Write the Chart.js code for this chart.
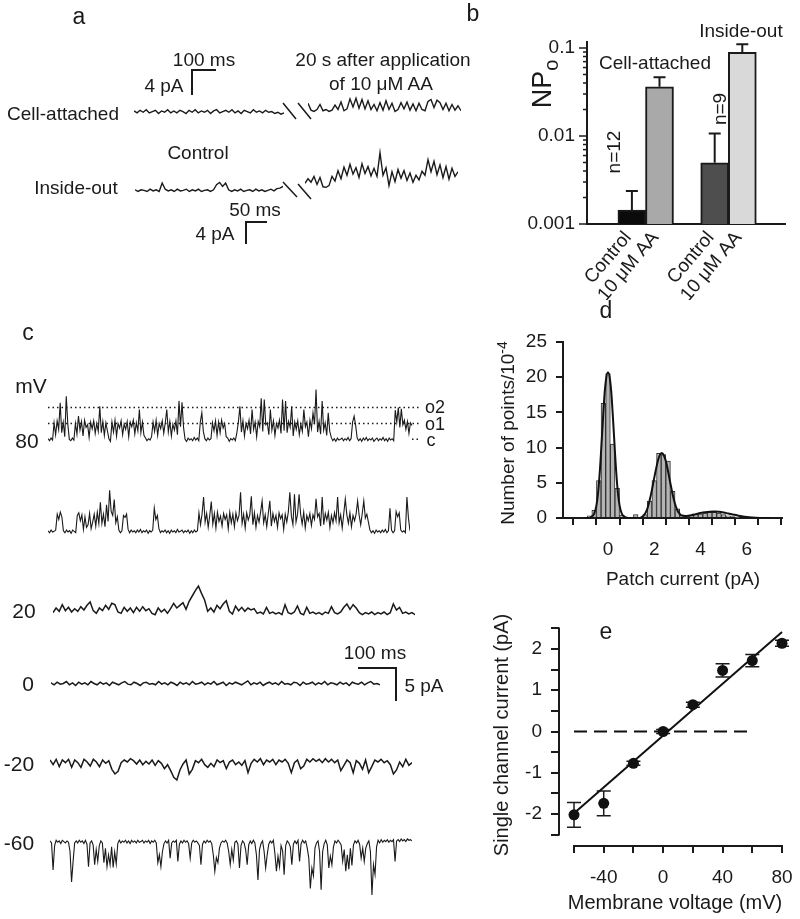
<!DOCTYPE html>
<html>
<head>
<meta charset="utf-8">
<script src="https://cdn.jsdelivr.net/npm/chart.js@4.4.1/dist/chart.umd.min.js"></script>
<style>
  body { margin: 0; width: 800px; height: 919px; position: relative; background: #fff; overflow: hidden;
         font-family: Arial, "Liberation Sans", sans-serif; color: #1a1a1a; }
  canvas { position: absolute; }
</style>
</head>
<body>
<script>
// ---- panel a: single-channel traces (pA) ----
const aCellCtrl = [0.1,-0.2,0.2,-0.1,0.3,-0.2,0.0,0.2,-0.3,0.1,-0.1,0.3,-0.2,0.1,-0.2,0.2,0.0,-0.3,0.2,-0.1,0.3,-0.2,0.1,-0.1,0.2,-0.3,0.1,0.3,-0.2,0.0,0.2,-0.1,0.3,-0.2,0.1,-0.3,0.2,0.0,-0.2,0.3,-0.1,0.1,-0.2,0.2,-0.1,0.0,-0.3,-0.1,-0.4,-0.2]
const aCellAA = [1.2,0.1,-0.1,0.2,1.0,0.0,0.2,-0.1,0.1,0.9,0.2,1.4,0.0,0.3,1.9,0.6,2.0,0.4,1.8,0.3,1.6,0.2,1.0,0.0,1.3,0.1,1.6,0.2,1.2,-0.1,0.2,1.3,0.3,1.4,0.1,1.1,0.0,1.2,0.2,0.0,1.5,1.8,0.5,1.7,1.3,0.2,1.2,0.0,1.0,0.1,0.8,0.0]
const aInsideCtrl = [0.1,-0.2,0.1,0.0,-0.2,0.2,-0.1,0.1,-0.2,1.3,0.2,-0.1,0.1,-0.2,0.2,-0.1,0.0,0.2,-0.2,0.1,-0.1,0.2,-0.2,0.0,0.1,-0.2,0.1,1.0,1.4,0.7,1.3,0.1,-0.2,0.1,-0.1,0.2,-0.2,0.0,0.1,-0.2,0.2,-0.1,0.1,-0.2,0.0,0.2,-0.1,0.3,0.4,0.7]
const aInsideAA = [1.2,2.0,1.4,2.4,1.0,2.2,0.6,0.5,0.8,2.4,1.6,3.4,2.0,4.0,2.6,4.5,2.8,3.9,2.2,4.6,2.9,4.1,2.5,3.8,2.4,6.5,2.6,3.9,0.8,3.2,1.5,3.6,2.1,3.4,1.7,3.0,1.4,2.6,1.8,3.3,2.6,5.3,3.2,5.0,2.7,4.4,2.2,4.1,1.9,3.8,2.4,3.2]

// ---- panel b: NPo ----
const bLabels = ['Control', '10 μM AA', 'Control', '10 μM AA']
const bSlot = [0, 1, 3, 4]
const bNPo = [0.00144, 0.0363, 0.00497, 0.0893]
const bErrTop = [0.00237, 0.0464, 0.0107, 0.110]
const bColors = ['#0b0b0b', '#a9a9a9', '#4e4e4e', '#d9d9d9']
const bTicks = [0.001,0.002,0.003,0.004,0.005,0.006,0.007,0.008,0.009,0.01,0.02,0.03,0.04,0.05,0.06,0.07,0.08,0.09,0.1]
const bMajor = [0.001, 0.01, 0.1]

// ---- panel c: traces at different holding potentials (pA) ----
const c80 = [0.1,-0.2,0.2,-0.1,
  2.5,0.7,2.8,1.5,5.5,1.0,2.6,0.4,6.5,2.3,
  0.0,-0.2,0.2,-0.1,
  2.4,0.8,3.5,1.4,2.7,0.5,2.9,1.8,2.2,0.3,2.6,1.6,2.8,0.9,2.4,1.2,5.0,1.0,2.7,0.6,2.5,1.3,
  0.1,-0.3,
  2.6,1.1,2.9,0.5,2.4,1.7,2.8,0.7,2.3,1.5,2.7,0.4,2.6,1.9,2.9,0.8,2.5,1.3,4.5,1.0,2.6,0.6,
  0.2,-0.2,0.1,-0.1,
  0.4,2.6,1.2,2.9,0.6,2.4,1.6,2.8,0.9,2.5,4.5,1.1,2.7,0.5,2.3,1.4,2.8,0.7,5.8,1.9,5.6,1.8,
  0.0,-0.3,0.2,-0.1,0.1,-0.2,0.3,-0.1,0.2,-0.2,
  2.6,4.0,1.2,0.1,
  -0.2,0.2,-0.1,0.1,
  2.5,1.3,2.8,0.6,2.6,1.0,2.9,1.7,2.4,0.4,
  0.2,-0.3,0.1,-0.1,0.2,-0.2,
  1.0,2.6,5.0,1.1,2.8,0.5,2.4,1.6,2.9,0.8,4.5,1.5,2.6,0.4,2.7,1.9,6.2,1.2,6.0,2.2,2.5,0.7,4.5,1.4,2.8,0.6,2.4,1.7,2.9,0.9,
  6.0,1.3,5.8,1.0,2.7,1.8,5.0,0.5,2.6,1.5,2.8,0.7,2.3,1.2,4.5,1.9,2.6,0.4,2.9,1.6,4.0,2.3,7.5,1.1,2.7,0.8,5.8,1.4,2.5,0.6,4.0,1.2,
  0.3,-0.2,0.1,-0.3,0.2,-0.1,0.0,0.2,-0.2,0.1,-0.1,0.3,-0.2,0.1,
  2.6,3.5,2.1,
  0.2,-0.2,0.1,-0.3,0.2,-0.1,0.3,-0.2,0.1,-0.1,0.2,-0.3,0.0,0.2,-0.2,0.1,-0.1,0.3,-0.2,0.1,-0.3,0.2,-0.1,0.1,-0.2,
  4.4,2.6,4.8,1.8,4.6,2.2,2.9,1.5,2.7,0.9,2.5,2.1]
const c60 = [0.1,-0.2,0.2,-0.1,0.0,0.2,
  2.6,1.8,2.9,2.2,
  0.1,-0.2,0.2,-0.1,0.1,-0.3,0.2,0.0,-0.2,
  2.4,2.8,1.6,2.5,
  0.3,2.2,0.6,1.0,2.7,0.4,1.4,2.6,0.8,2.9,1.2,4.4,1.2,
  2.6,0.7,4.0,1.5,6.2,3.0,2.4,4.8,1.3,2.2,
  0.2,-0.2,0.1,
  2.4,2.1,2.6,0.3,
  -0.2,0.2,-0.1,0.1,-0.2,0.2,-0.1,0.3,-0.2,0.1,-0.1,0.2,-0.3,0.1,-0.1,0.2,
  3.5,1.8,2.4,0.4,
  -0.2,0.1,-0.1,0.2,-0.2,0.1,-0.3,0.2,-0.1,0.1,-0.2,0.3,-0.1,0.0,0.2,-0.2,0.1,-0.1,0.2,-0.3,0.1,-0.2,0.2,-0.1,0.1,
  2.8,1.0,2.6,5.2,1.4,2.7,0.6,2.4,4.5,1.1,2.7,0.5,2.9,1.5,2.3,0.8,2.7,1.8,2.5,0.4,2.9,1.3,2.6,0.7,2.8,1.6,2.4,5.9,1.2,2.6,
  0.5,2.8,1.7,2.5,5.3,1.0,2.8,0.6,2.4,1.4,2.9,4.6,1.3,2.5,0.7,2.7,4.6,0.8,2.7,1.5,2.4,0.6,2.8,1.9,2.5,0.3,2.6,1.4,2.9,5.9,
  2.3,1.0,5.6,1.4,2.6,5.6,2.6,1.1,2.9,0.5,2.4,1.6,2.7,0.9,2.5,1.8,4.9,2.2,2.7,0.8,5.2,1.0,2.7,1.7,2.9,0.6,2.4,1.3,2.8,1.6,
  5.2,1.3,2.5,0.5,2.7,4.9,2.5,1.2,2.8,0.7,2.4,1.6,2.6,4.6,2.4,1.0,2.7,4.6,2.0,2.6,1.4,
  0.2,-0.2,0.1,-0.3,0.2,-0.1,0.1,-0.2,0.2,-0.1,0.3,-0.2,0.1,
  3.5,
  0.2,-0.2,0.1,
  3.0,2.2,2.8,
  0.2,-0.1,0.1,-0.2,
  5.2,
  2.0,0.1]
const c20 = [0.1,0.8,0.3,1.3,0.4,0.9,0.2,0.7,0.3,1.0,0.5,1.2,1.7,0.4,0.0,0.8,0.4,1.2,0.6,1.5,1.3,0.2,0.0,0.9,0.3,0.8,0.1,0.9,0.3,1.0,0.4,0.7,0.0,-0.2,0.8,0.2,0.6,0.0,0.7,1.5,0.8,1.2,1.6,0.6,1.8,2.6,3.4,4.1,3.0,2.0,0.3,0.8,0.2,1.2,0.7,1.4,1.9,0.3,-0.1,1.1,0.4,0.9,0.3,0.8,0.5,0.7,0.0,0.2,-0.1,0.9,0.0,0.2,-0.1,0.1,-0.2,1.3,0.1,-0.1,0.2,1.1,0.0,-0.2,0.9,0.0,0.2,-0.1,0.1,-0.2,0.2,0.0,1.0,0.1,-0.1,0.2,0.9,1.4,0.6,1.3,0.8,0.1,-0.2,0.1,-0.1,0.2,-0.2,0.1,-0.1,0.2,-0.2,0.1,1.4,0.5,0.9,0.0,0.2,-0.1,0.1,-0.2]
const c0 = [0.1,-0.2,0.2,-0.1,0.0,0.3,-0.2,0.1,-0.3,0.2,-0.1,0.1,-0.2,0.3,0.0,-0.2,0.2,-0.1,0.1,-0.3,0.2,0.0,-0.2,0.1,0.3,-0.1,-0.2,0.2,0.0,-0.3,0.1,0.2,-0.1,0.0,-0.2,0.3,-0.1,0.1,-0.2,0.2,0.0,-0.3,0.2,-0.1,0.1,-0.2,0.3,-0.1,0.0,0.2,-0.2,0.1,-0.1,0.3,-0.2,0.0,0.2,-0.3,0.1,-0.1,0.2,0.0,-0.2,0.1,0.4,-0.2,0.1,-0.1,0.2,-0.3,0.0,0.2,-0.1,0.1,-0.2,0.3,-0.1,0.0,-0.2,0.2,0.1,-0.3,0.2,-0.1,0.0,0.2,-0.2,0.1,-0.1,0.3,-0.2,0.1,0.0,-0.2,0.2,-0.1,0.1,-0.3,0.2,0.0,-0.1,0.2,-0.2,0.1,0.3,-0.1,0.0,-0.2]
const cm20 = [0.1,-0.6,0.2,-0.9,0.1,-0.3,0.2,-1.0,0.1,-0.3,-1.0,0.2,-0.2,-0.8,0.2,-0.2,-0.9,0.1,-0.4,0.0,-1.3,-2.0,-1.6,-0.3,0.1,-0.2,0.3,0.0,-0.5,0.1,-0.6,-0.1,-0.5,0.1,-0.7,0.0,-0.4,-1.2,-0.6,-1.5,-2.5,-2.9,-1.4,-0.5,0.1,-2.0,-1.3,0.0,-0.3,0.2,-0.6,-1.0,-0.4,-0.9,0.1,-0.3,0.0,-1.2,-0.2,0.1,-0.6,-0.2,-0.7,0.0,-1.8,-0.4,0.2,-0.2,0.3,-0.6,0.1,-0.2,0.2,-0.6,0.1,-0.2,0.2,-0.4,-1.8,-0.3,0.1,-1.2,-0.8,0.2,-0.2,0.3,-0.1,0.2,-0.3,0.3,-0.2,0.2,-0.3,0.1,-1.5,-0.7,0.1,-0.3,-1.8,0.0,-0.4,-1.3,0.1,-1.8,-0.9,0.1,-0.2,0.2,-0.3,0.0,-0.6,-2.0,-1.4,-0.2,-0.9,0.2,-0.7,-0.3]
const cm60 = [0.1,-0.2,-4.3,-0.6,0.2,-0.1,0.1,-0.3,0.2,0.0,-0.2,0.1,-0.1,-1.5,-6.1,-3.0,-0.2,0.1,-0.2,0.2,
  -0.1,0.1,-0.3,0.2,-0.4,-3.8,-0.2,0.1,-0.5,-3.5,-1.2,-3.0,-0.6,0.1,-0.2,-3.2,-1.0,-3.8,-2.0,-3.5,
  -0.8,-3.9,-1.6,-3.4,-0.3,0.2,-0.2,0.1,-0.1,0.2,-0.2,0.1,-0.3,0.2,-0.1,0.1,-0.2,0.2,-0.1,0.0,
  0.2,-0.2,0.1,-0.1,0.2,-0.3,0.1,-0.1,0.2,-0.2,-3.2,-2.0,-3.8,-1.5,-0.3,0.1,-0.2,0.2,-2.5,-0.2,
  0.1,-0.1,0.2,-3.0,-0.4,0.1,-0.2,0.2,-0.1,0.1,-0.3,-2.5,-0.2,0.2,-0.1,0.1,-0.2,-0.6,-3.5,-0.4,
  0.1,-0.2,0.2,-0.1,0.1,-0.3,-2.0,-4.5,-2.4,-3.2,-1.0,-0.2,0.1,-0.1,0.2,-0.2,-1.5,-3.5,-1.2,-2.8,
  -0.1,0.1,-0.4,-4.0,-0.6,0.1,-0.2,-1.2,-3.5,-0.5,0.1,-0.3,0.2,-0.2,-2.0,-5.8,-1.2,-0.3,0.1,-1.5,
  -4.0,-2.0,-0.4,0.1,-0.2,0.2,-1.8,-4.5,-2.2,-3.8,-0.6,-1.4,-5.0,-0.6,0.1,-0.2,-0.8,-3.5,-0.4,0.1,
  -0.3,0.2,-3.0,-0.3,0.2,-0.2,0.1,-1.0,-2.5,-7.1,-4.0,-5.2,-1.0,-0.2,0.1,-1.5,-7.3,-1.5,-0.3,0.2,
  -0.5,-4.0,-2.2,-3.5,-0.8,0.1,-0.2,0.2,-0.1,-0.5,-3.0,-1.2,-4.5,-2.0,-4.2,-1.0,-3.6,-0.5,0.1,-0.2,
  0.2,-0.4,-2.5,-1.0,-3.0,-1.0,-0.3,0.1,-1.5,-8.1,-3.5,-5.0,-0.8,0.2,-0.2,0.3,-0.1,0.2,0.0,0.3,
  -0.1,0.2,0.0,0.3,-3.0,0.1,0.3,0.0,0.4,0.1,0.3,0.0,0.4,0.2,0.3,0.1]
const cLevels = { c: 0, o1: 2.4, o2: 4.8 }

// ---- panel d: all-points histogram ----
const dBins = [-1.0,-0.8,-0.6,-0.4,-0.2,0.0,0.2,0.4,0.6,0.8,1.0,1.2,1.4,1.6,1.8,2.0,2.2,2.4,2.6,2.8,3.0,3.2,3.4,3.6,3.8,4.0,4.2,4.4,4.6,4.8,5.0,5.2,5.4,5.6,5.8,6.0]
const dCounts = [0,0.3,1.1,5.3,16.3,20.5,10.5,4.2,0.4,0.1,0,0.5,0.1,0.5,2.4,5.3,9.2,9.0,8.1,3.8,1.3,0.4,0.3,0.4,0.5,0.6,0.7,0.8,0.8,0.7,0.5,0.3,0.2,0.1,0,0]
const dFitX = [-1.0,-0.8,-0.7,-0.6,-0.5,-0.4,-0.3,-0.2,-0.1,0.0,0.1,0.2,0.3,0.4,0.5,0.6,0.7,0.8,1.0,1.4,1.5,1.6,1.7,1.8,1.9,2.0,2.1,2.2,2.3,2.4,2.5,2.6,2.7,2.8,2.9,3.0,3.1,3.2,3.4,3.6,3.8,4.0,4.2,4.4,4.6,4.8,5.0,5.2,5.4,5.6,5.8,6.0,6.4,7.0]
const dFitY = [0,0.05,0.2,0.6,1.8,4.6,9.4,15.0,19.3,20.7,19.3,15.0,9.4,4.6,1.8,0.6,0.2,0.05,0,0.05,0.2,0.6,1.3,2.5,4.0,5.7,7.3,8.6,9.2,9.0,8.1,6.6,4.9,3.3,2.0,1.1,0.6,0.35,0.3,0.4,0.55,0.7,0.82,0.9,0.92,0.88,0.78,0.64,0.5,0.36,0.24,0.15,0.05,0]
const dTicksX = [-1, 0, 1, 2, 3, 4, 5, 6, 7]

// ---- panel e: I-V relation ----
const eVolt = [-60, -40, -20, 0, 20, 40, 60, 80]
const eCurr = [-2.02, -1.74, -0.77, 0.0, 0.65, 1.48, 1.72, 2.14]
const eErr = [0.30, 0.30, 0.05, 0.05, 0.06, 0.16, 0.15, 0.07]
const eFitV = [-60, 80]
const eFitI = [-1.98, 2.41]
const eZeroV = [-60, 60]
const eTicksX = [-60, -40, -20, 0, 20, 40, 60, 80]
const eTicksY = [-2.5, -2, -1.5, -1, -0.5, 0, 0.5, 1, 1.5, 2, 2.5]

const INK = '#1a1a1a'
const FONT = 'Arial, "Liberation Sans", sans-serif'
Chart.defaults.font.family = FONT
Chart.defaults.color = INK
Chart.defaults.animation = false
Chart.defaults.responsive = false
Chart.defaults.events = []
Chart.defaults.plugins.legend.display = false
Chart.defaults.plugins.tooltip.enabled = false

function mk(left, top, w, h) {
  const c = document.createElement('canvas')
  c.width = Math.round(w)
  c.height = Math.round(h)
  c.style.left = Math.round(left) + 'px'
  c.style.top = Math.round(top) + 'px'
  document.body.appendChild(c)
  return c
}

function txt(html, x, y, size, rot) {
  const d = document.createElement('div')
  d.innerHTML = html
  d.style.cssText = `position:absolute;left:${x}px;top:${y}px;font-size:${size}px;line-height:1;white-space:nowrap;` +
    `transform:translate(-50%,-50%)${rot ? ` rotate(${rot}deg)` : ''};`
  document.body.appendChild(d)
}

const pts = (xs, ys) => xs.map((x, i) => ({ x, y: ys[i] }))

// one small chart per trace; x in samples, y in pA
function trace(vals, x0, x1, base, ppa, lo, hi, extra = {}) {
  const c = mk(x0, base - hi * ppa, x1 - x0, (hi - lo) * ppa)
  return new Chart(c, {
    type: 'line',
    data: {
      datasets: [
        { data: vals.map((y, i) => ({ x: i, y })), borderColor: INK, borderWidth: extra.lw ?? 1.5, pointRadius: 0, tension: 0 },
        ...(extra.datasets || [])
      ]
    },
    options: {
      layout: { padding: 0 },
      scales: {
        x: { type: 'linear', display: false, min: 0, max: extra.xmax ?? vals.length - 1 },
        y: { display: false, min: lo, max: hi }
      }
    }
  })
}

// panel a
trace(aCellCtrl, 134, 284, 111, 6.25, -1, 1.5, { lw: 1.4 })
trace(aCellAA, 308, 461, 111, 6.25, -1, 3, { lw: 1.4 })
trace(aInsideCtrl, 135, 283, 190, 5.75, -1, 2, { lw: 1.4 })
trace(aInsideAA, 305, 458, 190, 5.75, -1, 7.5, { lw: 1.4 })

// panel c
const c80max = (c80.length - 1) * (420 - 48) / (412 - 48)
const dotted = (y, from, to) => ({
  data: [{ x: from, y }, { x: to, y }], borderColor: INK, borderWidth: 1.5,
  borderDash: [1.5, 3], pointRadius: 0
})
trace(c80, 48, 420, 439, 6.6, -1, 8.5, {
  lw: 1.1,
  xmax: c80max,
  datasets: [dotted(cLevels.o2, 0, c80max), dotted(cLevels.o1, 0, c80max), dotted(cLevels.c, c80.length - 1, c80max)]
})
trace(c60, 48, 410, 531, 6.6, -1, 7, { lw: 1.1 })
trace(c20, 53, 415, 613, 6.6, -1, 5)
trace(c0, 51, 380, 684, 6.6, -1, 1)
trace(cm20, 50, 412, 761, 6.6, -3.5, 1)
trace(cm60, 50, 412, 842, 6.6, -9, 1, { lw: 1.1 })

// panel b
const axisBorder = { display: true, color: INK, width: 2 }
new Chart(mk(470, 20, 325, 280), {
  type: 'bar',
  data: {
    datasets: [{
      data: pts(bSlot, bNPo), backgroundColor: bColors, borderColor: INK, borderWidth: 2, barThickness: 28
    }]
  },
  options: {
    layout: { padding: { top: 22, right: 10, left: 0, bottom: 0 } },
    scales: {
      x: {
        type: 'linear', min: -0.73, max: 4.65,
        afterBuildTicks: (s) => { s.ticks = bSlot.map((v) => ({ value: v })) },
        afterFit: (s) => { s.height = 76; s.paddingLeft = 0; s.paddingRight = 0 },
        ticks: {
          autoSkip: false, minRotation: 50, maxRotation: 50, padding: 3, labelOffset: -4, font: { size: 19 },
          callback: (v) => bLabels[bSlot.indexOf(v)]
        },
        grid: { drawOnChartArea: false, drawTicks: false },
        border: axisBorder
      },
      y: {
        type: 'logarithmic', min: 0.001, max: 0.117,
        afterBuildTicks: (s) => { s.ticks = bTicks.map((v) => ({ value: v })) },
        afterFit: (s) => { s.width = 117; s.paddingTop = 0; s.paddingBottom = 0 },
        ticks: { autoSkip: false, padding: 12, font: { size: 19 }, callback: (v) => (bMajor.includes(v) ? String(v) : '') },
        grid: { drawOnChartArea: false, drawTicks: false },
        border: axisBorder
      }
    }
  },
  plugins: [{
    id: 'bDeco',
    afterDraw(chart) {
      const { ctx, scales: { x, y }, chartArea } = chart
      ctx.save()
      ctx.strokeStyle = INK
      ctx.lineWidth = 2
      bSlot.forEach((s, i) => {
        const px = x.getPixelForValue(s)
        const top = y.getPixelForValue(bErrTop[i])
        ctx.beginPath()
        ctx.moveTo(px, y.getPixelForValue(bNPo[i]))
        ctx.lineTo(px, top)
        ctx.moveTo(px - 6, top)
        ctx.lineTo(px + 6, top)
        ctx.stroke()
      })
      ctx.lineWidth = 1.5
      bTicks.forEach((v) => {
        const py = y.getPixelForValue(v)
        const len = bMajor.includes(v) ? 8 : 4
        ctx.beginPath()
        ctx.moveTo(chartArea.left - len, py)
        ctx.lineTo(chartArea.left, py)
        ctx.stroke()
      })
      ctx.restore()
    }
  }]
})

// panel d
const tickGrid = (len) => ({ drawOnChartArea: false, drawTicks: true, tickLength: len, color: INK, lineWidth: 2 })
new Chart(mk(470, 300, 330, 300), {
  type: 'bar',
  data: {
    datasets: [
      { type: 'line', data: pts(dFitX, dFitY), borderColor: '#111', borderWidth: 2, pointRadius: 0, tension: 0.4, order: 0 },
      {
        type: 'bar', data: pts(dBins, dCounts), backgroundColor: '#b4b4b4', borderColor: '#333',
        borderWidth: 1, barPercentage: 1, categoryPercentage: 1, order: 1
      }
    ]
  },
  options: {
    layout: { padding: { top: 42, right: 18, left: 0, bottom: 0 } },
    scales: {
      x: {
        type: 'linear', min: -1.42, max: 7,
        afterBuildTicks: (s) => { s.ticks = dTicksX.map((v) => ({ value: v })) },
        afterFit: (s) => { s.height = 82; s.paddingLeft = 0; s.paddingRight = 0 },
        ticks: { autoSkip: false, padding: 13, font: { size: 19 }, callback: (v) => (v >= 0 && v % 2 === 0 ? String(v) : '') },
        grid: tickGrid(7),
        border: axisBorder
      },
      y: {
        min: 0, max: 25,
        ticks: { autoSkip: false, stepSize: 5, padding: 9, font: { size: 19 } },
        afterFit: (s) => { s.width = 93; s.paddingTop = 0; s.paddingBottom = 0 },
        grid: tickGrid(7),
        border: axisBorder
      }
    }
  }
})

// panel e
new Chart(mk(470, 610, 330, 300), {
  type: 'line',
  data: {
    datasets: [
      { data: pts(eVolt, eCurr), showLine: false, pointRadius: 5.5, pointBackgroundColor: '#111', pointBorderWidth: 0, clip: false },
      { data: pts(eFitV, eFitI), borderColor: '#111', borderWidth: 2, pointRadius: 0, clip: false },
      { data: eZeroV.map((x) => ({ x, y: 0 })), borderColor: '#111', borderWidth: 2, borderDash: [13, 7], pointRadius: 0 }
    ]
  },
  options: {
    layout: { padding: { top: 18.4, right: 18, left: 0, bottom: 0 } },
    scales: {
      x: {
        type: 'linear', min: -70.1, max: 80,
        afterBuildTicks: (s) => { s.ticks = eTicksX.map((v) => ({ value: v })) },
        afterFit: (s) => { s.height = 64; s.paddingLeft = 0; s.paddingRight = 0 },
        ticks: { autoSkip: false, maxRotation: 0, padding: 13, font: { size: 19 }, callback: (v) => (v % 40 === 0 ? String(v) : '') },
        grid: tickGrid(7),
        border: { display: false }
      },
      y: {
        type: 'linear', min: -2.776, max: 2.5,
        afterBuildTicks: (s) => { s.ticks = eTicksY.map((v) => ({ value: v })) },
        afterFit: (s) => { s.width = 89; s.paddingTop = 0; s.paddingBottom = 0 },
        ticks: { autoSkip: false, padding: 9, font: { size: 19 }, callback: (v) => (Number.isInteger(v) ? String(v) : '') },
        grid: tickGrid(8),
        border: { display: false }
      }
    }
  },
  plugins: [{
    id: 'eDeco',
    beforeDatasetsDraw(chart) {
      const { ctx, scales: { x, y } } = chart
      ctx.save()
      ctx.strokeStyle = INK
      ctx.lineWidth = 1.5
      eVolt.forEach((v, i) => {
        const px = x.getPixelForValue(v)
        const hi = y.getPixelForValue(eCurr[i] + eErr[i])
        const lo = y.getPixelForValue(eCurr[i] - eErr[i])
        ctx.beginPath()
        ctx.moveTo(px, hi); ctx.lineTo(px, lo)
        ctx.moveTo(px - 7, hi); ctx.lineTo(px + 7, hi)
        ctx.moveTo(px - 7, lo); ctx.lineTo(px + 7, lo)
        ctx.stroke()
      })
      ctx.restore()
    },
    afterDraw(chart) {
      const { ctx, scales: { x, y }, chartArea } = chart
      ctx.save()
      ctx.strokeStyle = INK
      ctx.lineWidth = 2
      ctx.beginPath()
      ctx.moveTo(x.getPixelForValue(eTicksX[0]) - 1, chartArea.bottom)
      ctx.lineTo(x.getPixelForValue(eTicksX[eTicksX.length - 1]) + 1, chartArea.bottom)
      ctx.moveTo(chartArea.left, y.getPixelForValue(eTicksY[0]) + 1)
      ctx.lineTo(chartArea.left, y.getPixelForValue(eTicksY[eTicksY.length - 1]) - 1)
      ctx.stroke()
      ctx.restore()
    }
  }]
})

// scale bars and break marks
const ov = mk(0, 0, 800, 919)
const g = ov.getContext('2d')
g.strokeStyle = INK
g.lineWidth = 2
const poly = (p) => { g.beginPath(); g.moveTo(p[0], p[1]); for (let i = 2; i < p.length; i += 2) g.lineTo(p[i], p[i + 1]); g.stroke() }
poly([192, 95, 192, 70, 216, 70])
poly([246, 244, 246, 222, 267, 222])
poly([358, 668, 396, 668, 396, 701])
g.lineWidth = 1.5
poly([283, 103, 296, 119]); poly([298, 103, 311, 119])
poly([283, 182, 297, 197]); poly([298, 184, 311, 199])

// text
txt('a', 79, 16, 23)
txt('100 ms', 204, 59, 19)
txt('4 pA', 164, 85, 19)
txt('20 s after application', 383, 59, 19)
txt('of 10 μM AA', 381, 83, 19)
txt('Cell-attached', 63, 113, 19)
txt('Control', 198, 152, 19)
txt('Inside-out', 76, 187, 19)
txt('50 ms', 255, 209, 19)
txt('4 pA', 215, 233, 19)

txt('b', 473, 13, 23)
txt('Inside-out', 741, 30, 19)
txt('Cell-attached', 655, 62, 19)
txt('NP<sub style="font-size:20px">o</sub>', 545, 84, 27, -90)
txt('n=12', 613, 152, 19, -90)
txt('n=9', 719, 109, 19, -90)

txt('c', 28, 332, 23)
txt('mV', 31, 385, 21)
txt('80', 27, 440, 21)
txt('20', 24, 610, 21)
txt('0', 28, 683, 21)
txt('-20', 19, 763, 21)
txt('-60', 19, 842, 21)
txt('o2', 435, 407, 18)
txt('o1', 435, 424, 18)
txt('c', 431, 440, 18)
txt('100 ms', 375, 652, 19)
txt('5 pA', 424, 685, 19)

txt('d', 606, 310, 23)
txt('Number of points/10<sup style="font-size:14px">-4</sup>', 506, 433, 19, -90)
txt('Patch current (pA)', 683, 578, 19)

txt('e', 606, 631, 23)
txt('Single channel current (pA)', 501, 735, 20, -90)
txt('Membrane voltage (mV)', 675, 902, 20)
</script>
</body>
</html>
